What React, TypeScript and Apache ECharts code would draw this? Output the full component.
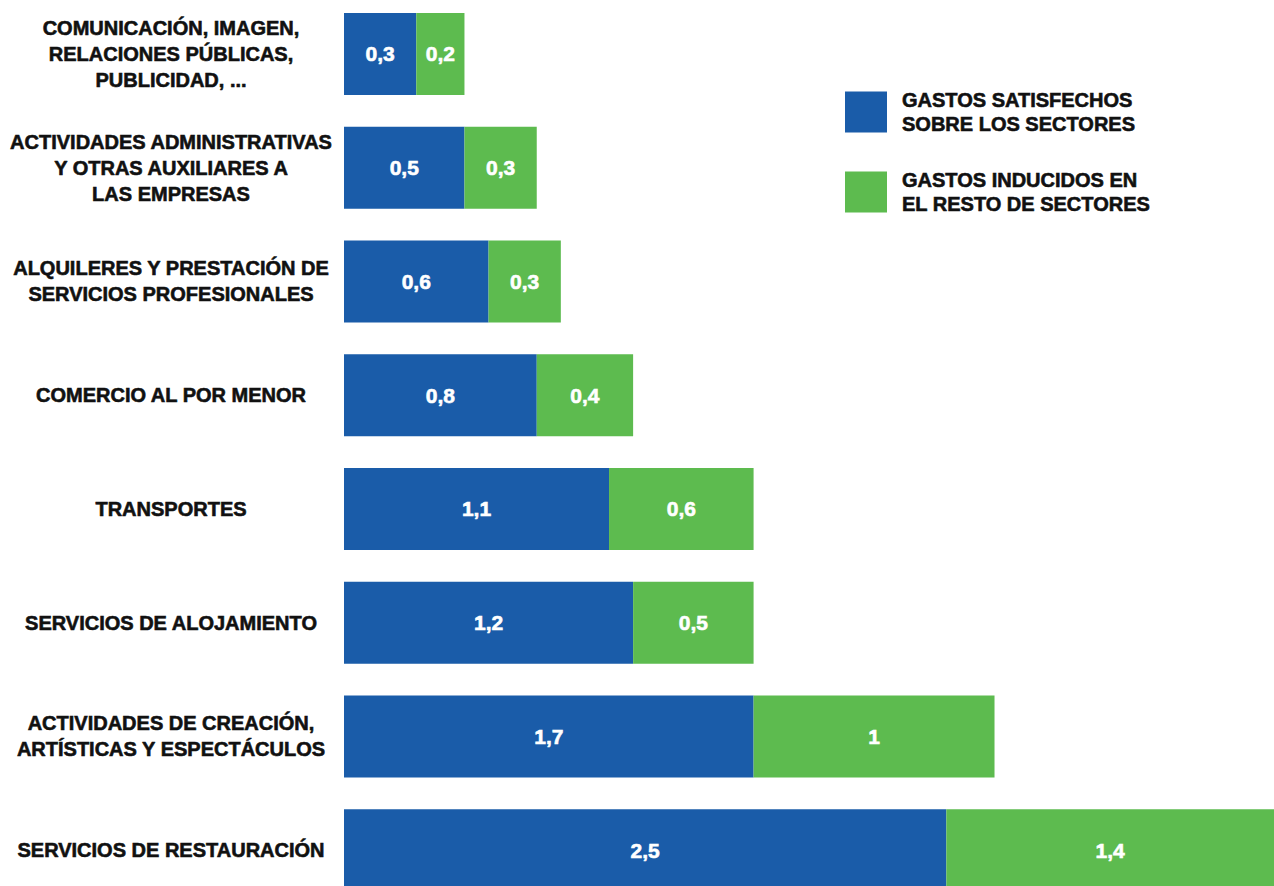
import React, { useEffect, useRef } from "react";
import * as echarts from "echarts";

const categories = [
  "COMUNICACIÓN, IMAGEN,\nRELACIONES PÚBLICAS,\nPUBLICIDAD, ...",
  "ACTIVIDADES ADMINISTRATIVAS\nY OTRAS AUXILIARES A\nLAS EMPRESAS",
  "ALQUILERES Y PRESTACIÓN DE\nSERVICIOS PROFESIONALES",
  "COMERCIO AL POR MENOR",
  "TRANSPORTES",
  "SERVICIOS DE ALOJAMIENTO",
  "ACTIVIDADES DE CREACIÓN,\nARTÍSTICAS Y ESPECTÁCULOS",
  "SERVICIOS DE RESTAURACIÓN",
];
const gastosSatisfechos = [0.3, 0.5, 0.6, 0.8, 1.1, 1.2, 1.7, 2.5];
const gastosInducidos = [0.2, 0.3, 0.3, 0.4, 0.6, 0.5, 1, 1.4];
const seriesNames = [
  "GASTOS SATISFECHOS\nSOBRE LOS SECTORES",
  "GASTOS INDUCIDOS EN\nEL RESTO DE SECTORES",
];

const FONT = "'Liberation Sans', Arial, sans-serif";
const BLUE = "#1a5ca9";
const GREEN = "#5dbb4f";
const TEXT = "#111111";

const fmt = (p: any) => String(p.value).replace(".", ",");

export default function App() {
  const ref = useRef<HTMLDivElement>(null);
  useEffect(() => {
    if (!ref.current) return;
    const chart = echarts.init(ref.current, null, { renderer: "svg" });
    const labelCfg = {
      show: true,
      position: "inside",
      color: "#ffffff",
      fontFamily: FONT,
      fontWeight: "bold",
      fontSize: 21,
      textBorderColor: "#ffffff",
      textBorderWidth: 0.6,
      formatter: fmt,
    };
    chart.setOption({
      animation: false,
      backgroundColor: "#ffffff",
      grid: {
        left: 344,
        right: 0,
        top: 0,
        height: 910,
        containLabel: false,
        outerBoundsMode: "none",
      },
      legend: {
        orient: "vertical",
        left: 840,
        top: 86,
        itemWidth: 42,
        itemHeight: 41,
        itemGap: 32,
        icon: "rect",
        selectedMode: false,
        textStyle: {
          fontFamily: FONT,
          fontWeight: "bold",
          fontSize: 20,
          lineHeight: 24,
          color: TEXT,
          textBorderColor: TEXT,
          textBorderWidth: 0.6,
          padding: [0, 0, 0, 10],
        },
        data: seriesNames,
      },
      xAxis: {
        type: "value",
        min: 0,
        max: 3.86,
        show: false,
        splitLine: { show: false },
      },
      yAxis: {
        type: "category",
        inverse: true,
        data: categories,
        axisLine: { show: false },
        axisTick: { show: false },
        axisLabel: {
          align: "center",
          margin: 173,
          fontFamily: FONT,
          fontWeight: "bold",
          fontSize: 20,
          lineHeight: 26,
          color: TEXT,
          textBorderColor: TEXT,
          textBorderWidth: 0.6,
        },
      },
      series: [
        {
          name: seriesNames[0],
          type: "bar",
          stack: "total",
          barWidth: 82,
          itemStyle: { color: BLUE },
          label: labelCfg,
          data: gastosSatisfechos,
        },
        {
          name: seriesNames[1],
          type: "bar",
          stack: "total",
          barWidth: 82,
          itemStyle: { color: GREEN },
          label: labelCfg,
          data: gastosInducidos,
        },
      ],
    });
    return () => chart.dispose();
  }, []);
  return (
    <div
      style={{
        position: "absolute",
        left: 0,
        top: 0,
        width: 1274,
        height: 886,
        overflow: "hidden",
        background: "#ffffff",
      }}
    >
      <div
        ref={ref}
        style={{ position: "absolute", left: 0, top: -3, width: 1274, height: 912 }}
      />
    </div>
  );
}
